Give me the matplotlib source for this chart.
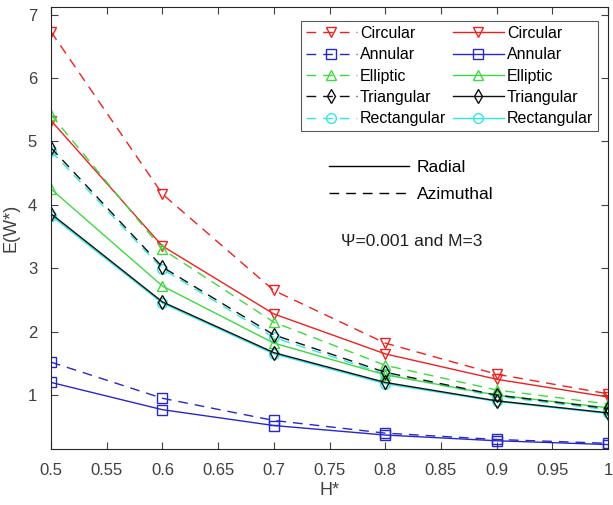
import numpy as np
import matplotlib
matplotlib.use('Agg')
import matplotlib.pyplot as plt
from matplotlib.lines import Line2D

plt.rcParams['font.family'] = ['Liberation Sans', 'DejaVu Sans']

# H* values
h = [0.5, 0.6, 0.7, 0.8, 0.9, 1.0]

# E(W*) - azimuthal (dashed)
circ_az = [6.73, 4.17, 2.65, 1.82, 1.33, 1.02]
ann_az = [1.52, 0.95, 0.60, 0.40, 0.30, 0.24]
ell_az = [5.42, 3.30, 2.15, 1.47, 1.08, 0.86]
tri_az = [4.90, 3.02, 1.95, 1.36, 1.00, 0.79]
rect_az = [4.85, 2.99, 1.91, 1.33, 0.98, 0.77]

# E(W*) - radial (solid)
circ_rad = [5.33, 3.35, 2.28, 1.65, 1.25, 0.97]
ann_rad = [1.20, 0.77, 0.52, 0.37, 0.28, 0.22]
ell_rad = [4.25, 2.72, 1.82, 1.32, 1.00, 0.80]
tri_rad = [3.86, 2.47, 1.67, 1.20, 0.91, 0.72]
rect_rad = [3.83, 2.45, 1.65, 1.18, 0.90, 0.71]

names = ['Circular', 'Annular', 'Elliptic', 'Triangular', 'Rectangular']
colors = ['#ee2020', '#2828c8', '#40d840', '#101010', '#30e8e8']
markers = ['v', 's', '^', 'd', 'o']
az = [circ_az, ann_az, ell_az, tri_az, rect_az]
rad = [circ_rad, ann_rad, ell_rad, tri_rad, rect_rad]

fig = plt.figure(figsize=(6.13, 5.05), dpi=100)
ax = fig.add_axes([51/613, 1-449/505, (608-51)/613, (449-7)/505])

# draw rectangular first so triangular sits on top of it
order = [4, 0, 1, 2, 3]
h_az, h_rad = {}, {}
for i in order:
    la, = ax.plot(h, az[i], color=colors[i], ls='--', dashes=(7, 5), lw=1,
                  marker=markers[i], ms=7, mfc='none', mew=1, label=names[i])
    lr, = ax.plot(h, rad[i], color=colors[i], ls='-', lw=1,
                  marker=markers[i], ms=7, mfc='none', mew=1, label=names[i])
    h_az[i] = la
    h_rad[i] = lr

handles = [h_az[i] for i in range(5)] + [h_rad[i] for i in range(5)]
leg = ax.legend(handles, names + names, ncol=2, loc='upper right',
                bbox_to_anchor=((598-51)/557, 1-(21-7)/442), fontsize=11.5,
                frameon=True, fancybox=False, edgecolor='#303030',
                handlelength=3.2, handletextpad=0.2, columnspacing=0.4,
                labelspacing=0.4, borderpad=0.3, borderaxespad=0)
leg.get_frame().set_linewidth(0.8)
ax.add_artist(leg)

style_handles = [Line2D([], [], color='k', lw=1, ls='-'),
                 Line2D([], [], color='k', lw=1, ls='--', dashes=(7, 5))]
ax.legend(style_handles, ['Radial', 'Azimuthal'], loc='upper left',
          bbox_to_anchor=((329-51)/557, 1-(160-7)/442), frameon=False,
          fontsize=12.5, handlelength=4.6, handletextpad=0.45, labelspacing=0.65,
          borderaxespad=0, borderpad=0)

ax.text((341-51)/557, 1-(241-7)/442, '\u03a8=0.001 and M=3', transform=ax.transAxes,
        fontsize=12.5, va='center', ha='left', color='#202020')

ax.set_xlim(0.5, 1.0)
ax.set_ylim(0.15, 7.12)
ax.set_xticks(np.arange(0.5, 1.001, 0.05))
ax.set_xticklabels(['0.5', '0.55', '0.6', '0.65', '0.7', '0.75', '0.8', '0.85', '0.9', '0.95', '1'])
ax.set_yticks([1, 2, 3, 4, 5, 6, 7])
ax.tick_params(direction='in', top=True, right=True, labelsize=12, colors='#404040',
               length=5, pad=10)
for s in ax.spines.values():
    s.set_color('#262626')
    s.set_linewidth(0.8)
ax.set_xlabel('H*', fontsize=13, color='#404040', labelpad=3)
ax.set_ylabel('E(W*)', fontsize=13, color='#404040', labelpad=6)

fig.savefig('out.png', dpi=100)
